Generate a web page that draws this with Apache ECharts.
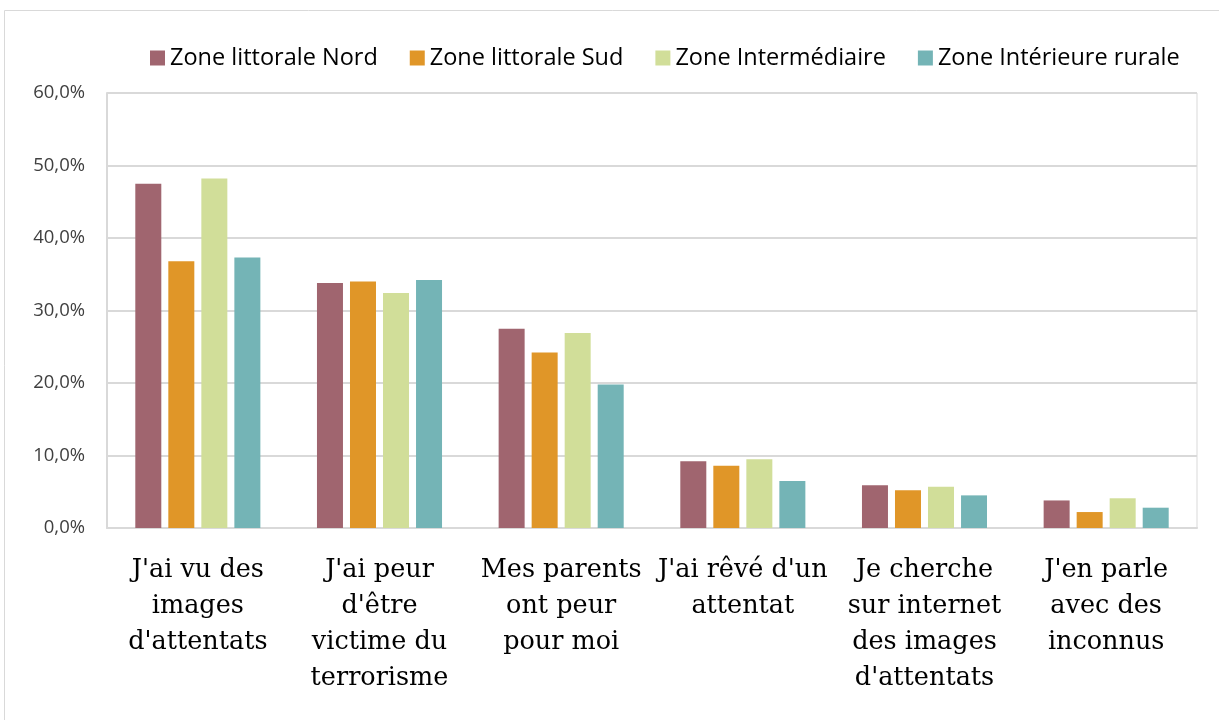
<!DOCTYPE html>
<html>
<head>
<meta charset="utf-8">
<script src="https://cdn.jsdelivr.net/npm/echarts@6/dist/echarts.min.js"></script>
<style>
  html, body { margin: 0; padding: 0; background: #fff; }
  #chart { width: 1219px; height: 720px; }
</style>
</head>
<body>
<div id="chart"></div>
<script>
// Categories (x axis) and values in percent for each zone
const categories = [
  "J'ai vu des\nimages\nd'attentats",
  "J'ai peur\nd'être\nvictime du\nterrorisme",
  "Mes parents\nont peur\npour moi",
  "J'ai rêvé d'un\nattentat",
  "Je cherche\nsur internet\ndes images\nd'attentats",
  "J'en parle\navec des\ninconnus"
];
const seriesNames = ["Zone littorale Nord", "Zone littorale Sud", "Zone Intermédiaire", "Zone Intérieure rurale"];
const nord = [47.5, 33.8, 27.5, 9.2, 5.9, 3.8];
const sud = [36.8, 34.0, 24.2, 8.6, 5.2, 2.2];
const intermediaire = [48.2, 32.4, 26.9, 9.5, 5.7, 4.1];
const rurale = [37.3, 34.2, 19.8, 6.5, 4.5, 2.8];
const colors = ["#A0656F", "#E09628", "#D1DE99", "#74B4B6"];

const chart = echarts.init(document.getElementById('chart'));
const values = [nord, sud, intermediaire, rurale];

chart.setOption({
  animation: false,
  graphic: [{
    type: 'rect',
    shape: { x: 4.5, y: 10.5, width: 1230, height: 730 },
    style: { fill: 'none', stroke: '#d9d9d9', lineWidth: 1 },
    silent: true
  }],
  legend: {
    left: 145, top: 41,
    itemWidth: 15, itemHeight: 15, itemGap: 32,
    icon: 'rect',
    textStyle: { fontFamily: 'Open Sans', fontSize: 23.5, color: '#000', padding: [0, 0, 0, 0] },
    data: seriesNames
  },
  grid: { left: 107, right: 22, top: 93, bottom: 192, show: true, borderColor: '#d9d9d9', borderWidth: 1, containLabel: false },
  xAxis: {
    type: 'category',
    data: categories,
    axisTick: { show: false },
    axisLine: { lineStyle: { color: '#d9d9d9', width: 2 } },
    axisLabel: {
      interval: 0, margin: 24,
      fontFamily: 'DejaVu Serif', fontSize: 25.5, color: '#000', lineHeight: 36
    }
  },
  yAxis: {
    type: 'value', min: 0, max: 60, interval: 10,
    axisLine: { show: true, lineStyle: { color: '#d9d9d9', width: 2 } },
    splitLine: { lineStyle: { color: '#d9d9d9', width: 2 } },
    axisLabel: {
      margin: 22, fontFamily: 'Open Sans', fontSize: 18.5, color: '#404040',
      formatter: v => v.toFixed(1).replace('.', ',') + '%'
    }
  },
  series: seriesNames.map((name, i) => ({
    name, type: 'bar', data: values[i],
    barWidth: 26, barGap: '27%',
    itemStyle: { color: colors[i] }
  }))
});
</script>
</body>
</html>
